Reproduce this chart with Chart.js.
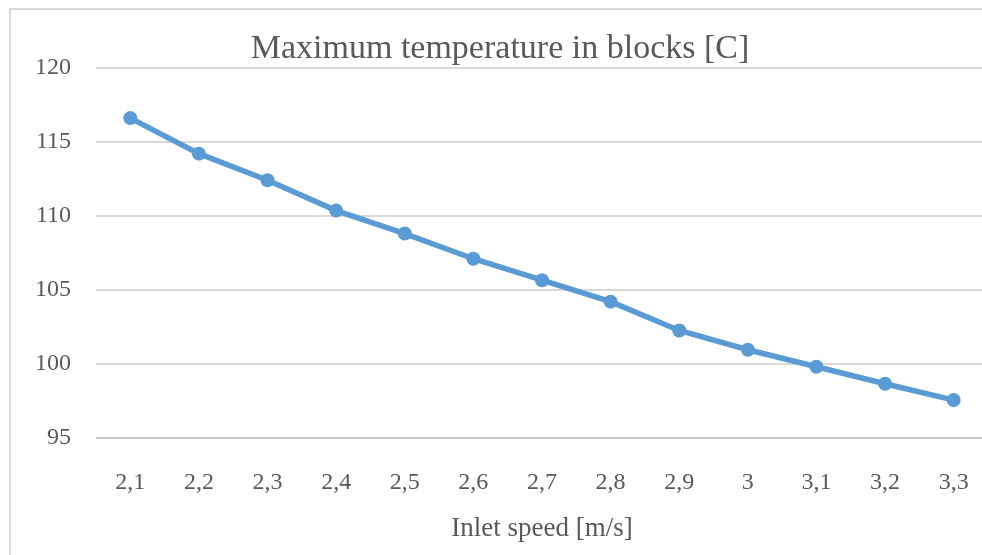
<!DOCTYPE html>
<html>
<head>
<meta charset="utf-8">
<script src="https://cdn.jsdelivr.net/npm/chart.js@4.4.1/dist/chart.umd.min.js"></script>
<style>
  html, body { margin: 0; padding: 0; background: #fff; overflow: hidden; }
  #clip { position: absolute; left: 0; top: 0; width: 982px; height: 555px; overflow: hidden; }
  #wrap { position: absolute; left: 0; top: 0; width: 1000px; height: 555px; }
</style>
</head>
<body>
<div id="clip">
<div id="wrap"><canvas id="c" width="1000" height="555"></canvas></div>
</div>
<script>
const categories = ["2,1","2,2","2,3","2,4","2,5","2,6","2,7","2,8","2,9","3","3,1","3,2","3,3"];
const maxTemperature = [116.6, 114.2, 112.4, 110.35, 108.8, 107.1, 105.65, 104.2, 102.25, 100.95, 99.8, 98.65, 97.55];
const yTicks = [95, 100, 105, 110, 115, 120];
const chartTitle = "Maximum temperature in blocks [C]";
const xTitle = "Inlet speed [m/s]";

const FONT = "'Liberation Serif', 'DejaVu Serif', serif";
const TEXT = "#595959";
const GRID = "#d9d9d9";
const BLUE = "#5b9bd5";

const framePlugin = {
  id: 'frame',
  beforeDraw(chart) {
    const ctx = chart.ctx;
    ctx.save();
    ctx.strokeStyle = GRID;
    ctx.lineWidth = 2;
    ctx.beginPath();
    ctx.moveTo(10, chart.height + 5);
    ctx.lineTo(10, 9);
    ctx.lineTo(chart.width + 5, 9);
    ctx.stroke();
    ctx.restore();
  }
};

new Chart(document.getElementById('c'), {
  type: 'line',
  data: {
    labels: categories,
    datasets: [{
      data: maxTemperature,
      borderColor: BLUE,
      backgroundColor: BLUE,
      borderWidth: 5.5,
      pointRadius: 7,
      pointHoverRadius: 7,
      pointBorderWidth: 0,
      tension: 0,
      fill: false
    }]
  },
  plugins: [framePlugin],
  options: {
    responsive: false,
    animation: false,
    devicePixelRatio: 1,
    layout: { padding: { top: 29, right: 9, bottom: 10, left: 9 } },
    plugins: {
      legend: { display: false },
      tooltip: { enabled: false },
      title: {
        display: true,
        text: chartTitle,
        color: TEXT,
        font: { family: FONT, size: 34, weight: 'normal' },
        padding: { top: 0, bottom: -2 }
      }
    },
    scales: {
      x: {
        offset: true,
        grid: { display: false, drawTicks: false },
        border: { display: false },
        ticks: { color: TEXT, font: { family: FONT, size: 24 }, padding: 31, maxRotation: 0, autoSkip: false },
        title: { display: true, text: xTitle, color: TEXT, font: { family: FONT, size: 27 }, padding: { top: -16, bottom: 0 } }
      },
      y: {
        min: 95,
        max: 120,
        afterBuildTicks: (axis) => { axis.ticks = yTicks.map(v => ({ value: v })); },
        afterFit: (axis) => { axis.width = 87; },
        grid: {
          drawTicks: false,
          lineWidth: 2,
          color: (ctx) => ctx.tick && ctx.tick.value === 95 ? '#c8c8c8' : GRID
        },
        border: { display: false },
        ticks: { color: TEXT, font: { family: FONT, size: 24 }, padding: 25 }
      }
    }
  }
});
</script>
</body>
</html>
